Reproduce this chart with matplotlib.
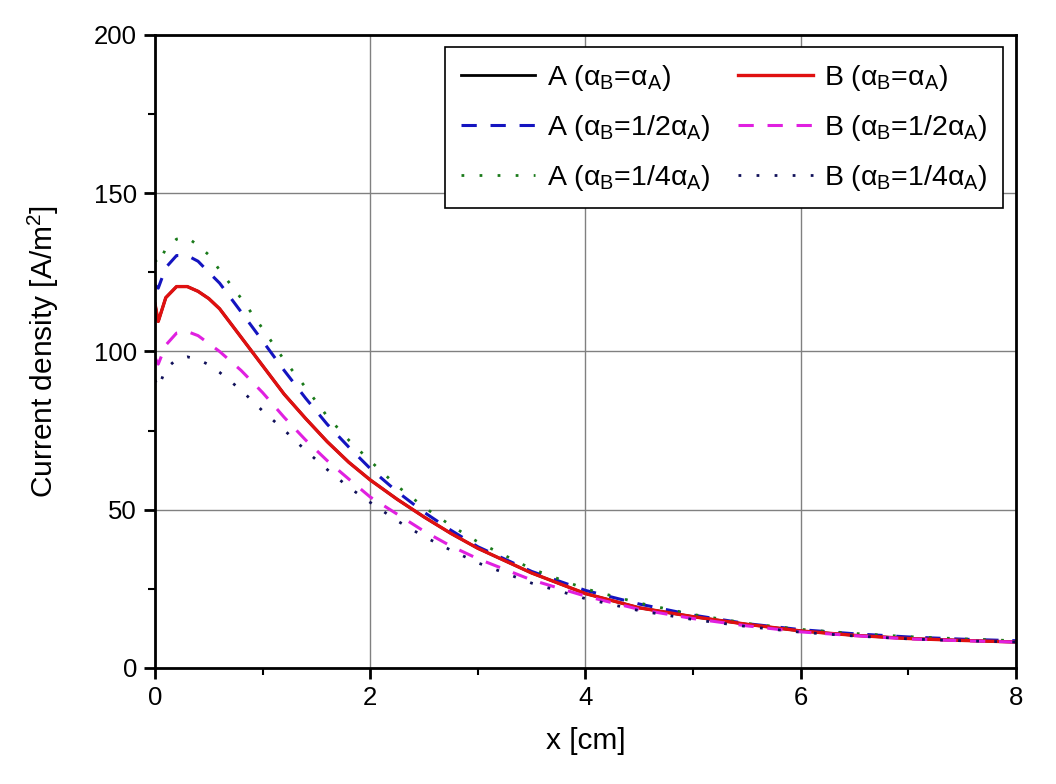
import numpy as np
import matplotlib
matplotlib.use('Agg')
import matplotlib.pyplot as plt

plt.rcParams['font.family'] = ['Liberation Sans', 'DejaVu Sans']
plt.rcParams['mathtext.fontset'] = 'custom'
plt.rcParams['mathtext.rm'] = 'Liberation Sans'
plt.rcParams['mathtext.it'] = 'Liberation Sans'

# x positions [cm]
x = [0, 0.03, 0.1, 0.2, 0.3, 0.4, 0.5, 0.6, 0.8, 1.0, 1.2, 1.4, 1.6, 1.8, 2.0,
     2.25, 2.5, 2.75, 3.0, 3.5, 4.0, 4.5, 5.0, 5.5, 6.0, 6.5, 7.0, 7.5, 8.0]

# current density [A/m2]
A_eq = [115, 109.5, 117, 120.5, 120.5, 119, 116.7, 113.5, 104.5, 95.5, 86.5, 78.8, 71.5, 65, 59.4,
        53.3, 47.7, 42.5, 37.8, 30, 23.5, 19, 16.2, 13.8, 11.7, 10.3, 9.3, 8.7, 8.2]
B_eq = [115, 109.5, 117, 120.5, 120.5, 119, 116.7, 113.5, 104.5, 95.5, 86.5, 78.8, 71.5, 65, 59.4,
        53.3, 47.7, 42.5, 37.8, 30, 23.5, 19, 16.2, 13.8, 11.7, 10.3, 9.3, 8.7, 8.2]
A_half = [121, 120, 126.5, 130.3, 130.3, 128.5, 125, 121.6, 112.5, 103.3, 94, 85.2, 77, 69.8, 63,
          55.7, 49.2, 43.5, 38.3, 30.5, 24.5, 20.2, 16.7, 14, 12.1, 10.8, 9.8, 9.1, 8.6]
B_half = [98, 96, 102, 105.8, 106.3, 105, 102.5, 100, 94, 87, 79.2, 72, 65.5, 59.7, 54,
          48.6, 43.2, 38.5, 34.5, 27.8, 22.7, 18.5, 15.6, 13.3, 11.4, 10.2, 9.2, 8.6, 8.2]
A_quarter = [129, 127.5, 132.5, 135.5, 136, 133.5, 130.5, 125.7, 116.8, 107.2, 97.3, 88.6, 79.5, 72, 65.4,
             57.5, 50.8, 45, 39.8, 31.3, 25, 20.5, 16.9, 14.1, 12.2, 10.9, 9.9, 9.2, 8.6]
B_quarter = [91, 88.5, 94.5, 97.5, 98.3, 97.5, 95.8, 93.4, 87.8, 81.2, 75.2, 68.7, 62.7, 57.1, 52.3,
             46.5, 41.5, 37.2, 33.2, 26.8, 21.9, 18.1, 15.3, 13.1, 11.3, 10.1, 9.2, 8.6, 8.2]

fig = plt.figure(figsize=(10.56, 7.84), dpi=100)
ax = fig.add_axes([0.1468, 0.148, 0.8153, 0.8074])

ax.plot(x, A_eq, color='black', lw=2.0, label=r'A ($\alpha_{\mathrm{B}}$=$\alpha_{\mathrm{A}}$)')
ax.plot(x, A_half, color='#1414c0', lw=2.2, linestyle=(0, (5, 4.5)),
        label=r'A ($\alpha_{\mathrm{B}}$=1/2$\alpha_{\mathrm{A}}$)')
ax.plot(x, A_quarter, color='#1a7a1a', lw=2.0, linestyle=(0, (1, 5.5)),
        label=r'A ($\alpha_{\mathrm{B}}$=1/4$\alpha_{\mathrm{A}}$)')
ax.plot(x, B_eq, color='#e01010', lw=2.4, label=r'B ($\alpha_{\mathrm{B}}$=$\alpha_{\mathrm{A}}$)')
ax.plot(x, B_half, color='#e020e0', lw=2.2, linestyle=(0, (5, 4.5)),
        label=r'B ($\alpha_{\mathrm{B}}$=1/2$\alpha_{\mathrm{A}}$)')
ax.plot(x, B_quarter, color='#10105a', lw=2.0, linestyle=(0, (1, 5.5)),
        label=r'B ($\alpha_{\mathrm{B}}$=1/4$\alpha_{\mathrm{A}}$)')

ax.set_xlim(0, 8)
ax.set_ylim(0, 200)
ax.set_xticks([0, 2, 4, 6, 8])
ax.set_xticks([1, 3, 5, 7], minor=True)
ax.set_yticks([0, 50, 100, 150, 200])
ax.set_yticks([25, 75, 125, 175], minor=True)
ax.grid(True, which='major', color='#808080', lw=1)
ax.set_axisbelow(True)
for s in ax.spines.values():
    s.set_linewidth(2)
ax.tick_params(which='major', direction='out', length=8, width=2, labelsize=18.5, pad=5)
ax.tick_params(which='minor', direction='out', length=5, width=1.5)

ax.set_xlabel('x [cm]', fontsize=21.5, labelpad=12)
ax.set_ylabel(r'Current density [A/m$^2$]', fontsize=21.5, labelpad=24)

leg = ax.legend(ncol=2, loc='upper right', bbox_to_anchor=(0.985, 0.981), borderaxespad=0,
                fontsize=20.5, frameon=True, fancybox=False, edgecolor='black',
                handlelength=2.6, columnspacing=1.0, handletextpad=0.4,
                labelspacing=0.7, borderpad=0.55)
leg.get_frame().set_linewidth(1.2)
leg.get_frame().set_alpha(1)

fig.savefig('out.png', dpi=100)
